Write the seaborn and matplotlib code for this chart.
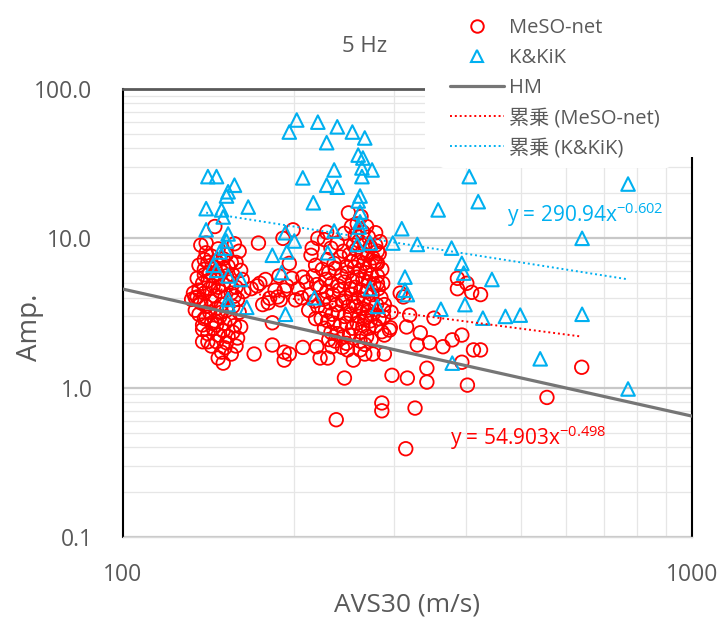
import numpy as np
import pandas as pd
import matplotlib
matplotlib.use("Agg")
import matplotlib.pyplot as plt
from matplotlib.lines import Line2D
from matplotlib.patches import Rectangle
from matplotlib.ticker import FixedLocator, LogLocator, FuncFormatter, NullFormatter
import seaborn as sns

# ---- data (AVS30 in m/s, amplification) ----
# MeSO-net, scattered points
MESO_SPARSE = [
    (135, 4.05), (136.6, 3.87), (140, 2.97), (138, 2.63), (146, 2.63), (141, 2.03), (138, 2.03),
    (146, 2.03), (152, 2.0), (159, 2.15), (161, 2.55), (149, 1.73), (155, 1.68), (147, 1.58),
    (150, 1.46), (145, 12.0), (140, 9.3), (139, 7.2), (158, 6.9), (168, 4.6), (173, 9.3),
    (174, 5.0), (181, 3.97), (180, 3.7), (189, 3.87), (201, 3.87), (183, 2.72), (183, 1.93),
    (170, 1.68), (192, 1.73), (192, 1.53), (196, 1.68), (207, 1.86), (219, 1.88), (222, 1.58),
    (229, 1.58), (233, 1.88), (248, 1.79), (254, 1.53), (245, 1.16), (237, 0.61), (285, 0.79),
    (285, 0.70), (297, 1.21), (316, 1.16), (326, 0.73), (314, 0.39), (191, 10.0), (199, 11.4),
    (215, 8.6), (220, 10.0), (228, 11.0), (196, 6.8), (207, 5.5), (192, 4.5), (187, 4.05),
    (249, 14.8), (278, 10.9), (283, 9.5), (254, 9.0), (319, 3.06), (352, 2.92), (333, 2.33),
    (329, 1.93), (346, 2.0), (365, 1.88), (379, 2.09), (394, 2.25), (413, 1.79), (394, 1.48),
    (342, 1.35), (342, 1.09), (403, 1.04), (387, 4.6), (410, 4.35), (425, 4.2), (425, 1.79),
    (640, 1.37), (556, 0.86), (288, 1.68), (275, 1.68), (243, 1.86), (315, 2.55), (295, 2.52),
    (287, 2.97), (285, 2.37), (307, 4.3), (311, 4.05), (387, 5.4), (402, 5.0), (266, 1.68),
    (261, 1.79), (268, 2.97), (288, 2.25), (294, 2.43), (280, 6.8), (280, 5.0), (288, 3.6),
    (296, 3.2), (132, 3.9), (133, 4.3), (134, 3.3), (252, 12.0), (245, 10.8),
    (172, 4.8), (178, 5.3), (185, 4.5), (188, 5.6), (194, 4.8), (198, 5.4), (203, 4.6),
    (206, 4.0), (210, 5.1), (176, 3.6), (214, 7.7), (218, 6.6), (216, 5.6), (219, 4.9),
    (213, 4.2), (217, 3.8), (212, 3.3), (218, 2.9),
]
# MeSO-net, dense group around 140-160 m/s
MESO_LEFT = [
    (137, 9.0), (140, 8.0), (143, 7.6), (147, 8.5), (152, 7.8), (157, 9.2), (160, 8.2), (136, 6.6),
    (139, 6.2), (142, 5.9), (145, 6.4), (149, 6.0), (153, 6.5), (156, 5.7), (161, 6.1), (135, 5.4),
    (138, 5.0), (141, 5.2), (144, 4.8), (147, 5.5), (150, 4.9), (154, 5.1), (158, 4.7), (162, 5.3),
    (136, 4.5), (139, 4.3), (142, 4.6), (145, 4.1), (148, 4.4), (151, 4.0), (155, 4.3), (159, 3.9),
    (137, 3.7), (140, 3.5), (143, 3.8), (146, 3.4), (149, 3.6), (152, 3.3), (156, 3.5), (160, 3.2),
    (136, 3.1), (139, 2.9), (142, 3.2), (145, 2.8), (148, 3.0), (151, 2.7), (154, 2.9), (157, 2.6),
    (138, 2.45), (141, 2.3), (144, 2.5), (147, 2.25), (150, 2.4), (153, 2.2), (156, 2.35), (143, 1.9),
    (151, 1.85), (158, 1.9), (134, 4.0), (163, 4.4), (146, 7.0), (150, 7.3), (141, 6.9), (155, 6.9),
    (144, 5.6), (152, 5.6), (139, 5.7), (147, 4.7), (157, 4.1), (149, 3.2), (143, 2.7), (150, 6.3),
]
# MeSO-net, dense group around 220-290 m/s
MESO_MID = [
    (262, 14.0), (258, 12.5), (268, 12.0), (264, 11.0), (256, 10.5), (270, 10.2), (260, 9.6),
    (266, 9.1), (272, 8.8), (257, 8.4), (263, 8.0), (269, 7.7), (275, 7.4), (259, 7.1), (265, 6.8),
    (271, 6.6), (255, 6.4), (261, 6.1), (267, 5.9), (273, 5.7), (258, 5.5), (264, 5.3), (270, 5.1),
    (276, 4.9), (256, 4.7), (262, 4.5), (268, 4.4), (274, 4.2), (259, 4.0), (265, 3.9), (271, 3.7),
    (257, 3.5), (263, 3.4), (269, 3.3), (275, 3.1), (260, 3.0), (266, 2.9), (272, 2.8), (258, 2.7),
    (264, 2.6), (270, 2.5), (262, 2.35), (268, 2.2), (261, 2.05), (273, 2.1), (266, 1.95),
    (226, 9.8), (232, 8.6), (238, 9.3), (244, 8.2), (250, 7.8), (229, 7.2), (235, 6.8), (241, 7.5),
    (247, 6.5), (252, 7.0), (224, 6.2), (230, 5.9), (236, 6.3), (242, 5.6), (248, 5.9), (253, 5.2),
    (227, 5.3), (233, 5.0), (239, 4.8), (245, 5.1), (251, 4.6), (222, 4.7), (228, 4.4), (234, 4.2),
    (240, 4.5), (246, 4.0), (252, 4.2), (225, 3.9), (231, 3.7), (237, 3.6), (243, 3.8), (249, 3.5),
    (254, 3.7), (220, 3.5), (227, 3.3), (233, 3.1), (239, 3.2), (245, 3.0), (251, 3.1), (223, 2.9),
    (229, 2.8), (235, 2.7), (241, 2.6), (247, 2.7), (253, 2.5), (226, 2.5), (232, 2.35), (238, 2.3),
    (244, 2.2), (250, 2.25), (236, 2.05), (247, 1.98), (230, 2.1),
    (278, 9.0), (282, 7.9), (279, 6.9), (285, 6.2), (280, 5.6), (286, 5.0), (281, 4.6), (284, 4.0),
    (279, 3.6), (287, 3.3), (282, 2.9), (278, 2.6), (280, 8.2), (277, 7.0),
]
# K&KiK
KIK = [
    (141, 25.9), (146, 25.9), (157, 22.7), (153, 20.5), (152, 19.2), (166, 16.2), (140, 15.8),
    (149, 15.5), (150, 13.9), (140, 11.4), (153, 10.7), (152, 9.6), (151, 8.6), (148, 8.1),
    (144, 6.6), (146, 6.1), (153, 5.6), (161, 5.3), (153, 3.9), (153, 3.6), (165, 3.45),
    (183, 7.7), (193, 10.9), (200, 9.6), (194, 8.1), (190, 5.9), (193, 3.1), (202, 62),
    (196, 51.5), (207, 25.4), (216, 17.3), (220, 60), (217, 4.0), (228, 43.7), (228, 22.7),
    (235, 28.7), (238, 55.8), (238, 22.0), (253, 51.5), (266, 47), (259, 36.1), (264, 34.5),
    (263, 29.6), (274, 28.7), (263, 25.9), (261, 19.2), (259, 17.8), (261, 15.0), (261, 12.9),
    (260, 11.9), (235, 11.2), (258, 9.1), (272, 9.3), (229, 8.0), (272, 4.6), (280, 3.5),
    (298, 9.3), (309, 11.6), (313, 5.5), (313, 4.5), (316, 4.2), (329, 9.1), (358, 15.5),
    (362, 3.35), (378, 8.6), (394, 6.8), (397, 5.85), (399, 3.6), (406, 25.9), (421, 17.6),
    (379, 1.46), (429, 2.92), (445, 5.3), (470, 3.0), (499, 3.06), (541, 1.56), (641, 10.0),
    (641, 3.1), (772, 23.1), (772, 0.98),
]
# HM reference line end points
HM_AVS30 = [100, 1000]
HM_AMP = [4.57, 0.645]
# power-law fits printed on the chart: y = a * x^b
FIT_MESO = (54.903, -0.498)
FIT_KIK = (290.94, -0.602)

RED = "#FF0000"
CYAN = "#00B0F0"
GRAY_TXT = "#595959"

meso = pd.DataFrame(MESO_SPARSE + MESO_LEFT + MESO_MID, columns=["AVS30", "Amp"])
kik = pd.DataFrame(KIK, columns=["AVS30", "Amp"])
hm = pd.DataFrame({"AVS30": HM_AVS30, "Amp": HM_AMP})


def fit_frame(df, coef):
    xs = np.geomspace(df["AVS30"].min(), df["AVS30"].max(), 50)
    return pd.DataFrame({"AVS30": xs, "Amp": coef[0] * xs ** coef[1]})


sns.set_theme(style="white")
plt.rcParams["font.family"] = ["Open Sans", "Noto Sans CJK JP", "DejaVu Sans"]
plt.rcParams["mathtext.fontset"] = "custom"
plt.rcParams["mathtext.rm"] = "Open Sans"
plt.rcParams["mathtext.default"] = "regular"

fig = plt.figure(figsize=(7.21, 6.28), dpi=100)
ax = fig.add_axes([123 / 721, 1 - 537 / 628, 569 / 721, 448 / 628])
ax.set_xscale("log")
ax.set_yscale("log")

sns.scatterplot(data=meso, x="AVS30", y="Amp", marker="o", s=95, facecolors="none",
                edgecolor=RED, linewidth=1.3, ax=ax, zorder=3)
sns.scatterplot(data=kik, x="AVS30", y="Amp", marker="^", s=95, facecolors="none",
                edgecolor=CYAN, linewidth=1.5, ax=ax, zorder=4)
sns.lineplot(data=hm, x="AVS30", y="Amp", color="#767676", linewidth=2.3, ax=ax, zorder=5)
sns.lineplot(data=fit_frame(meso, FIT_MESO), x="AVS30", y="Amp", color=RED,
             linestyle=(0, (1, 1.5)), linewidth=1.4, ax=ax, zorder=6)
sns.lineplot(data=fit_frame(kik, FIT_KIK), x="AVS30", y="Amp", color=CYAN,
             linestyle=(0, (1, 1.5)), linewidth=1.4, ax=ax, zorder=6)

ax.set_xlim(100, 1000)
ax.set_ylim(0.1, 100)
ax.xaxis.set_major_locator(FixedLocator([100, 1000]))
ax.xaxis.set_minor_locator(LogLocator(base=10, subs=np.arange(2, 10)))
ax.yaxis.set_major_locator(FixedLocator([0.1, 1, 10, 100]))
ax.yaxis.set_minor_locator(LogLocator(base=10, subs=np.arange(2, 10)))
ax.xaxis.set_major_formatter(FuncFormatter(lambda v, p: f"{v:.0f}"))
ax.yaxis.set_major_formatter(FuncFormatter(lambda v, p: f"{v:.1f}"))
ax.xaxis.set_minor_formatter(NullFormatter())
ax.yaxis.set_minor_formatter(NullFormatter())

ax.grid(which="minor", color="#E6E6E6", linewidth=0.9)
ax.grid(which="major", axis="y", color="#C8C8C8", linewidth=1.6)
ax.set_axisbelow(True)
ax.tick_params(which="both", length=0)
ax.tick_params(axis="y", labelsize=16.5, labelcolor=GRAY_TXT, pad=22)
ax.tick_params(axis="x", labelsize=16.5, labelcolor=GRAY_TXT, pad=19)

for side in ["left", "right"]:
    ax.spines[side].set_color("black")
    ax.spines[side].set_linewidth(1.5)
ax.spines["top"].set_color("#595959")
ax.spines["top"].set_linewidth(2.0)
ax.spines["bottom"].set_color("#D9D9D9")
ax.spines["bottom"].set_linewidth(1.0)

ax.set_xlabel("")
ax.set_ylabel("")
fig.text(407 / 721, 1 - 605 / 628, "AVS30 (m/s)", fontsize=19, color=GRAY_TXT, ha="center", va="center")
fig.text(30 / 721, 1 - 327 / 628, "Amp.", fontsize=20, color=GRAY_TXT, ha="center", va="center", rotation=90)
fig.text(365 / 721, 1 - 47 / 628, "5 Hz", fontsize=16, color=GRAY_TXT, ha="center", va="center")

ax.text(473, 14.3, "y = 290.94x$^{-0.602}$", color=CYAN, fontsize=15, ha="left", va="center", zorder=7)
ax.text(376, 0.46, "y = 54.903x$^{-0.498}$", color=RED, fontsize=15, ha="left", va="center", zorder=7)

# white legend area laid over the top-right corner of the plot, as in the source chart
fig.add_artist(Rectangle((425 / 721, 1 - 157 / 628), 296 / 721, 157 / 628,
                         transform=fig.transFigure, facecolor="white", edgecolor="none", zorder=4))

handles = [
    Line2D([], [], marker="o", linestyle="none", markerfacecolor="none", markeredgecolor=RED,
           markersize=9, markeredgewidth=1.4),
    Line2D([], [], marker="^", linestyle="none", markerfacecolor="none", markeredgecolor=CYAN,
           markersize=9, markeredgewidth=1.5),
    Line2D([], [], color="#767676", linewidth=2.3),
    Line2D([], [], color=RED, linestyle=(0, (1, 1.5)), linewidth=1.4),
    Line2D([], [], color=CYAN, linestyle=(0, (1, 1.5)), linewidth=1.4),
]
labels = ["MeSO-net", "K&KiK", "HM", "累乗 (MeSO-net)", "累乗 (K&KiK)"]
leg = fig.legend(handles, labels, loc="upper left", bbox_to_anchor=(440 / 721, 1 - 8 / 628),
                 fontsize=14.5, labelcolor=GRAY_TXT, frameon=True, handlelength=2.7,
                 handletextpad=0.25, labelspacing=0.5, borderpad=0.5, borderaxespad=0)
leg.get_frame().set_facecolor("white")
leg.get_frame().set_edgecolor("none")
leg.get_frame().set_alpha(1.0)
leg.set_zorder(5)

fig.savefig("out.png", dpi=100)
